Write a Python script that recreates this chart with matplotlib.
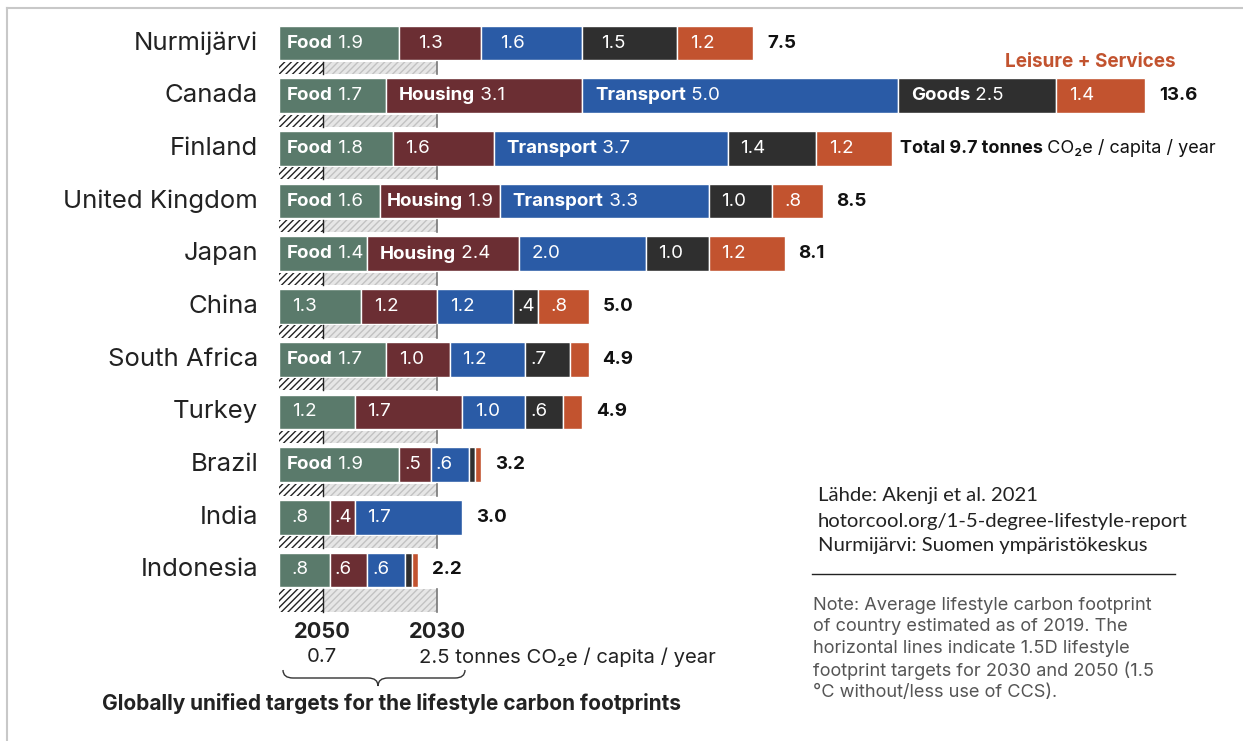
import matplotlib
matplotlib.use("Agg")
import matplotlib.pyplot as plt
from matplotlib.path import Path
from matplotlib.patches import PathPatch
from matplotlib.lines import Line2D

plt.rcParams['font.family'] = ['Inter', 'DejaVu Sans']
plt.rcParams['hatch.linewidth'] = 1.0

countries = ["Nurmijärvi", "Canada", "Finland", "United Kingdom", "Japan", "China",
             "South Africa", "Turkey", "Brazil", "India", "Indonesia"]
food = [1.9, 1.7, 1.8, 1.6, 1.4, 1.3, 1.7, 1.2, 1.9, 0.8, 0.8]
housing = [1.3, 3.1, 1.6, 1.9, 2.4, 1.2, 1.0, 1.7, 0.5, 0.4, 0.6]
transport = [1.6, 5.0, 3.7, 3.3, 2.0, 1.2, 1.2, 1.0, 0.6, 1.7, 0.6]
goods = [1.5, 2.5, 1.4, 1.0, 1.0, 0.4, 0.7, 0.6, 0.1, 0.0, 0.1]
leisure = [1.2, 1.4, 1.2, 0.8, 1.2, 0.8, 0.3, 0.3, 0.1, 0.0, 0.1]
totals = ["7.5", "13.6", "9.7", "8.5", "8.1", "5.0", "4.9", "4.9", "3.2", "3.0", "2.2"]

# which segments carry the category name in front of the value
named = {
    "Nurmijärvi": ["Food"],
    "Canada": ["Food", "Housing", "Transport", "Goods"],
    "Finland": ["Food", "Transport"],
    "United Kingdom": ["Food", "Housing", "Transport"],
    "Japan": ["Food", "Housing"],
    "South Africa": ["Food"],
    "Brazil": ["Food"],
}

categories = ["Food", "Housing", "Transport", "Goods", "Leisure"]
colors = ["#5a7a6b", "#6b2e33", "#2a5ba6", "#2f2f2f", "#c2532f"]
target_2050 = 0.7
target_2030 = 2.5

W, H = 1243, 741
x0_px, unit_px = 279, 63.2
row0_px, row_px = 43, 52.7

fig = plt.figure(figsize=(W / 100, H / 100), dpi=100)
ax = fig.add_axes([x0_px / W, 0, (W - x0_px) / W, 1])
ax.set_xlim(0, (W - x0_px) / unit_px)
ax.set_ylim((H - row0_px) / row_px, -row0_px / row_px)
ax.axis("off")


def fx(px):
    return px / W


def fy(py):
    return 1 - py / H


def fmt(v):
    s = f"{v:.1f}"
    return s[1:] if v < 1 else s


bar_fs = 13.5
series = [food, housing, transport, goods, leisure]
n = len(countries)
for i, name in enumerate(countries):
    left = 0.0
    for k, cat in enumerate(categories):
        v = series[k][i]
        if v <= 0:
            continue
        ax.barh(i, v, left=left, height=0.66, color=colors[k],
                edgecolor="white", linewidth=1.0)
        if v >= 0.4:
            pad = 0.2 if v > 0.7 else 0.08
            if name == "Nurmijärvi" and k in (1, 2, 3):
                pad = 0.3
            if cat in named.get(name, []):
                if k == 0:
                    pad = 0.13
                elif v < 2:
                    pad = 0.1
                t = ax.text(left + pad, i, cat,
                            color="white", fontsize=bar_fs, weight="bold",
                            va="center", ha="left")
                ax.annotate(" " + fmt(v), xy=(1, 0.5), xycoords=t,
                            color="white", fontsize=bar_fs, va="center", ha="left")
            else:
                ax.text(left + pad, i, fmt(v), color="white", fontsize=bar_fs,
                        va="center", ha="left")
        left += v
    end = left
    if name == "Finland":
        t = ax.text(end + 0.12, i, "Total 9.7 tonnes", fontsize=13,
                    weight="bold", va="center", ha="left", color="#111")
        ax.annotate(" CO₂e / capita / year", xy=(1, 0.5), xycoords=t,
                    fontsize=13, va="center", ha="left", color="#111")
    else:
        ax.text(end + 0.22, i, totals[i], fontsize=bar_fs, weight="bold",
                va="center", ha="left", color="#111")

    ax.text(-0.33, i, name, fontsize=18.5, va="center", ha="right", color="#222")

    # target strips under each bar
    if i < n - 1:
        yc, hh = i + 0.475, 0.23
    else:
        yc, hh = i + 0.58, 0.44
    ax.barh(yc, target_2050, height=hh, color="white", edgecolor="#222",
            hatch="/////", linewidth=0)
    ax.barh(yc, target_2030 - target_2050, left=target_2050, height=hh,
            color="#e6e6e6", edgecolor="#c2c2c2", hatch="/////", linewidth=0)
    ax.plot([target_2050, target_2050], [yc - hh / 2, yc + hh / 2],
            color="#222", lw=1.0)
    ax.plot([target_2030, target_2030], [yc - hh / 2, yc + hh / 2],
            color="#777", lw=1.2)

# Leisure + Services label above the Canada bar
fig.text(fx(1090), fy(62), "Leisure + Services", color="#c2532f",
         fontsize=13.6, weight="bold", ha="center", va="center")

# bottom target labels
fig.text(fx(322), fy(632), "2050", fontsize=15.7, weight="bold",
         ha="center", va="center", color="#222")
fig.text(fx(437), fy(632), "2030", fontsize=15.7, weight="bold",
         ha="center", va="center", color="#222")
fig.text(fx(322), fy(657), "0.7", fontsize=14.6, ha="center", va="center",
         color="#222")
fig.text(fx(419), fy(657), "2.5 tonnes CO₂e / capita / year", fontsize=14.6,
         ha="left", va="center", color="#222")

# curly brace
bx0, bx1, bxm = 283, 465, 378
by0, bym, by1 = 670, 678, 686
r = 10
verts = [(bx0, by0), (bx0, bym), (bx0 + r, bym), (bx0 + r, bym),
         (bxm - r, bym), (bxm, bym), (bxm, by1),
         (bxm, bym), (bxm + r, bym), (bxm + r, bym),
         (bx1 - r, bym), (bx1, bym), (bx1, by0)]
codes = [Path.MOVETO, Path.CURVE3, Path.CURVE3, Path.LINETO,
         Path.LINETO, Path.CURVE3, Path.CURVE3,
         Path.CURVE3, Path.CURVE3, Path.LINETO,
         Path.LINETO, Path.CURVE3, Path.CURVE3]
verts = [(fx(a), fy(b)) for a, b in verts]
fig.add_artist(PathPatch(Path(verts, codes), transform=fig.transFigure,
                         fill=False, edgecolor="#333", lw=1.0))

fig.text(fx(391), fy(703), "Globally unified targets for the lifestyle carbon footprints",
         fontsize=15, weight="bold", ha="center", va="center", color="#222")

# source and note
src = ["Lähde: Akenji et al. 2021",
       "hotorcool.org/1-5-degree-lifestyle-report",
       "Nurmijärvi: Suomen ympäristökeskus"]
for j, line in enumerate(src):
    fig.text(fx(818), fy(496 + 25 * j), line, fontsize=14.6,
             family=["Lato", "DejaVu Sans"], ha="left", va="center", color="#222")
fig.add_artist(Line2D([fx(812), fx(1175)], [fy(574), fy(574)],
                      transform=fig.transFigure, color="#222", lw=1.0))
note = ["Note: Average lifestyle carbon footprint",
        "of country estimated as of 2019. The",
        "horizontal lines indicate 1.5D lifestyle",
        "footprint targets for 2030 and 2050 (1.5",
        "°C without/less use of CCS)."]
for j, line in enumerate(note):
    fig.text(fx(813), fy(605 + 21.8 * j), line, fontsize=13.1,
             ha="left", va="center", color="#555")

# frame
fig.add_artist(Line2D([fx(7), 1], [fy(8), fy(8)], transform=fig.transFigure,
                      color="#c8c8c8", lw=1.5))
fig.add_artist(Line2D([fx(7), fx(7)], [fy(8), 0], transform=fig.transFigure,
                      color="#c8c8c8", lw=1.5))

fig.savefig("out.png", dpi=100)
